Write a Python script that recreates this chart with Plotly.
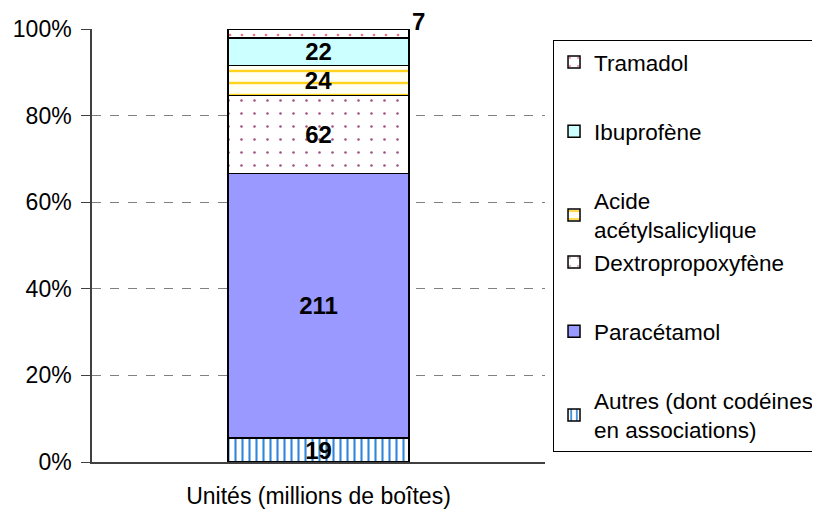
import plotly.graph_objects as go

# Ventes d'antalgiques - unités (millions de boîtes)
categorie = ["Unités (millions de boîtes)"]
molecules = ["Autres (dont codéines<br>en associations)", "Paracétamol", "Dextropropoxyfène",
             "Acide<br>acétylsalicylique", "Ibuprofène", "Tramadol"]
valeurs = [19, 211, 62, 24, 22, 7]
y_ticks = [0, 20, 40, 60, 80, 100]

# style de chaque segment (fond, motif, couleur du motif)
styles = [
    dict(bg="#FFFFFF", shape="|", fg="#2F86DA", size=7, sol=0.3),
    dict(bg="#9999FF", shape="", fg="#9999FF", size=8, sol=0.3),
    dict(bg="#FFFFFF", shape=".", fg="#A0507E", size=13, sol=0.03),
    dict(bg="#FFFFF4", shape="-", fg="#FFD21E", size=12, sol=0.2),
    dict(bg="#CCFFFF", shape="", fg="#CCFFFF", size=8, sol=0.3),
    dict(bg="#FFFFFF", shape=".", fg="#F07080", size=12, sol=0.04),
]
groupes = ["g5", "g4", "g3", "g3", "g2", "g1"]
rangs = [6, 5, 4, 3, 2, 1]
police = "Liberation Sans, Arial"

fig = go.Figure()
for nom, v, st, grp, rg in zip(molecules, valeurs, styles, groupes, rangs):
    est_dernier = nom == "Tramadol"
    fig.add_trace(go.Bar(
        x=categorie, y=[v], name=nom, legendgroup=grp, legendrank=rg,
        width=0.4,
        marker=dict(color=st["bg"], line=dict(color="black", width=1.5),
                    pattern=dict(shape=st["shape"], fgcolor=st["fg"], bgcolor=st["bg"],
                                 size=st["size"], solidity=st["sol"], fillmode="replace")),
        text=[] if est_dernier else [str(v)],
        textposition="inside", insidetextanchor="middle", textangle=0,
        textfont=dict(family=police, size=24, color="black", weight="bold"),
        constraintext="none",
    ))

# étiquette du Tramadol, placée hors de la barre
fig.add_annotation(x=categorie[0], y=100, text="<b>%d</b>" % valeurs[-1], showarrow=False,
                   xshift=100, yshift=8, font=dict(family=police, size=24, color="black"))

# la page ajoute une marge de 8 px : la figure est réduite d'autant
fig.update_layout(
    width=812, height=513,
    barmode="stack", barnorm="percent",
    plot_bgcolor="white", paper_bgcolor="white",
    margin=dict(l=84, r=275, t=21, b=59, autoexpand=False),
    font=dict(family=police, size=23, color="black"),
    uniformtext=dict(mode="show", minsize=22),
    legend=dict(traceorder="grouped", x=1.0177, xanchor="left", y=0.975, yanchor="top",
                bordercolor="black", borderwidth=1, tracegroupgap=37,
                font=dict(size=22.5), itemwidth=30),
    showlegend=True,
)
fig.update_yaxes(range=[0, 100], tickmode="array", tickvals=y_ticks,
                 ticktext=["%d%%" % t for t in y_ticks], showline=True,
                 linecolor="#404040", linewidth=1.5, ticks="outside", ticklen=9, tickcolor="#404040",
                 ticklabelstandoff=5,
                 showgrid=True, gridcolor="#808080", griddash="dash", gridwidth=1, zeroline=False,
                 automargin=False)
fig.update_xaxes(showline=True, linecolor="#404040", linewidth=1.5, ticks="", ticklabelstandoff=13,
                 range=[-0.5, 0.5], automargin=False)

fig.write_html("out.html")
